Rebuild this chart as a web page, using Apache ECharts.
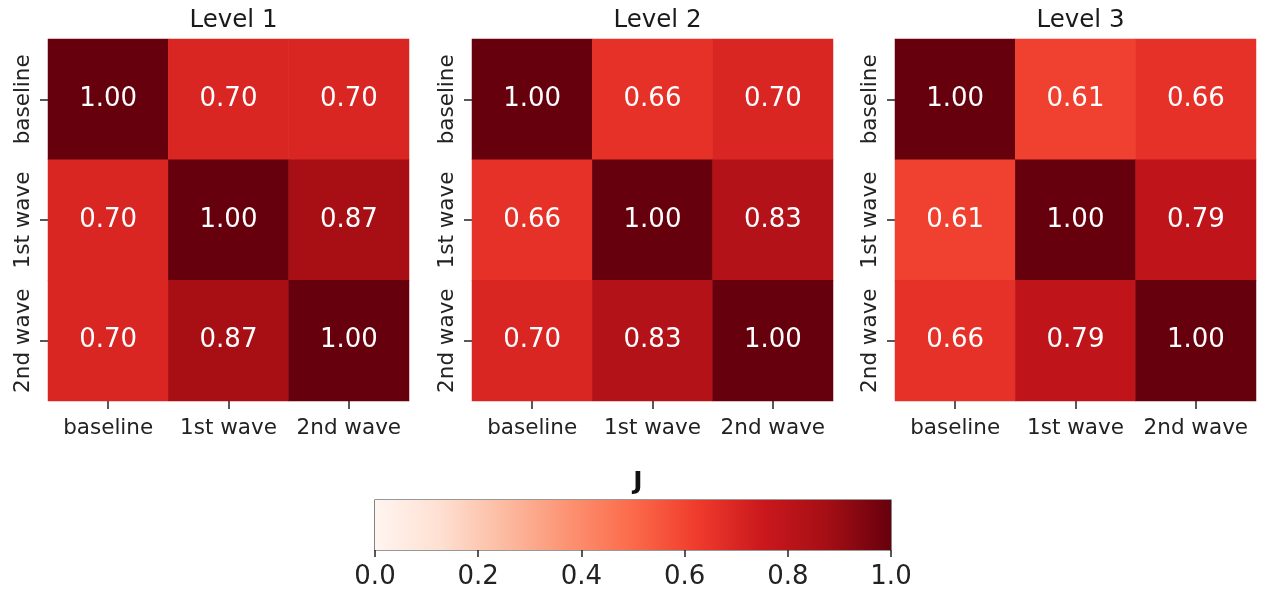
<!DOCTYPE html>
<html><head><meta charset="utf-8">
<script src="https://cdn.jsdelivr.net/npm/echarts@6/dist/echarts.min.js"></script>
<style>html,body{margin:0;padding:0;background:#fff}#c{width:1265px;height:590px}</style>
</head><body><div id="c"></div>
<script>
const categories = ['baseline', '1st wave', '2nd wave'];
const panelTitles = ['Level 1', 'Level 2', 'Level 3'];
const level1 = [[1.00, 0.70, 0.70], [0.70, 1.00, 0.87], [0.70, 0.87, 1.00]];
const level2 = [[1.00, 0.66, 0.70], [0.66, 1.00, 0.83], [0.70, 0.83, 1.00]];
const level3 = [[1.00, 0.61, 0.66], [0.61, 1.00, 0.79], [0.66, 0.79, 1.00]];
const colorbarTicks = [0.0, 0.2, 0.4, 0.6, 0.8, 1.0];
const colorbarTitle = 'J';
// matplotlib "Reds" colormap stops
const reds = ['#fff5f0','#fee0d2','#fcbba1','#fc9272','#fb6a4a','#ef3b2c','#cb181d','#a50f15','#67000d'];

const FONT = 'DejaVu Sans';
const matrices = [level1, level2, level3];
const lefts = [48, 472, 895];
const W = 361, H = 362, TOP = 39;

const grids = [], xAxes = [], yAxes = [], series = [], titles = [];
matrices.forEach((m, i) => {
  grids.push({left: lefts[i], top: TOP, width: W, height: H});
  titles.push({text: panelTitles[i], left: lefts[i] + W / 2, top: 3, textAlign: 'center',
    textStyle: {fontFamily: FONT, fontSize: 24.5, fontWeight: 'normal', color: '#1a1a1a'}});
  xAxes.push({type: 'category', gridIndex: i, data: categories, position: 'bottom',
    axisLine: {show: false}, splitLine: {show: false},
    axisTick: {show: true, alignWithLabel: true, length: 8, lineStyle: {color: '#222', width: 1.5}},
    axisLabel: {fontFamily: FONT, fontSize: 21.5, color: '#222', margin: 16, interval: 0}});
  yAxes.push({type: 'category', gridIndex: i, data: categories, inverse: true,
    axisLine: {show: false}, splitLine: {show: false},
    axisTick: {show: true, alignWithLabel: true, length: 8, lineStyle: {color: '#222', width: 1.5}},
    axisLabel: {fontFamily: FONT, fontSize: 21.5, color: '#222', rotate: 90, margin: 14, interval: 0}});
  const data = [];
  m.forEach((row, r) => row.forEach((v, c) => data.push([c, r, v])));
  series.push({type: 'heatmap', xAxisIndex: i, yAxisIndex: i, data: data,
    itemStyle: {borderWidth: 0},
    label: {show: true, fontFamily: FONT, fontSize: 26, color: '#fff',
      formatter: p => p.value[2].toFixed(2)},
    emphasis: {disabled: true}});
});

// colorbar grid
grids.push({left: 375, top: 500, width: 516, height: 51, show: true, borderColor: '#333', borderWidth: 1.2, backgroundColor: 'transparent'});
xAxes.push({type: 'value', gridIndex: 3, min: 0, max: 1, interval: 0.2, position: 'bottom',
  axisLine: {show: false}, splitLine: {show: false},
  axisTick: {show: true, length: 7, lineStyle: {color: '#222', width: 1.5}},
  axisLabel: {fontFamily: FONT, fontSize: 26, color: '#222', margin: 14,
    formatter: v => colorbarTicks.find(t => Math.abs(t - v) < 1e-9).toFixed(1)}});
yAxes.push({type: 'value', gridIndex: 3, min: 0, max: 1, show: false});
series.push({type: 'custom', xAxisIndex: 3, yAxisIndex: 3, data: [[0, 1]], silent: true, z: 1,
  renderItem: (params, api) => {
    const p0 = api.coord([0, 0]), p1 = api.coord([1, 1]);
    return {type: 'rect', shape: {x: p0[0], y: p1[1], width: p1[0] - p0[0], height: p0[1] - p1[1]},
      style: {fill: new echarts.graphic.LinearGradient(0, 0, 1, 0,
        reds.map((c, k) => ({offset: k / (reds.length - 1), color: c})))}};
  }});
titles.push({text: colorbarTitle, left: 633, top: 465, textAlign: 'center',
  textStyle: {fontFamily: FONT, fontSize: 25, fontWeight: 'bold', color: '#111'}});

const chart = echarts.init(document.getElementById('c'), null, {renderer: 'canvas'});
chart.setOption({
  animation: false,
  title: titles,
  grid: grids, xAxis: xAxes, yAxis: yAxes,
  visualMap: {show: false, type: 'continuous', min: 0, max: 1, seriesIndex: [0, 1, 2],
    inRange: {color: reds}},
  series: series
});
</script></body></html>
